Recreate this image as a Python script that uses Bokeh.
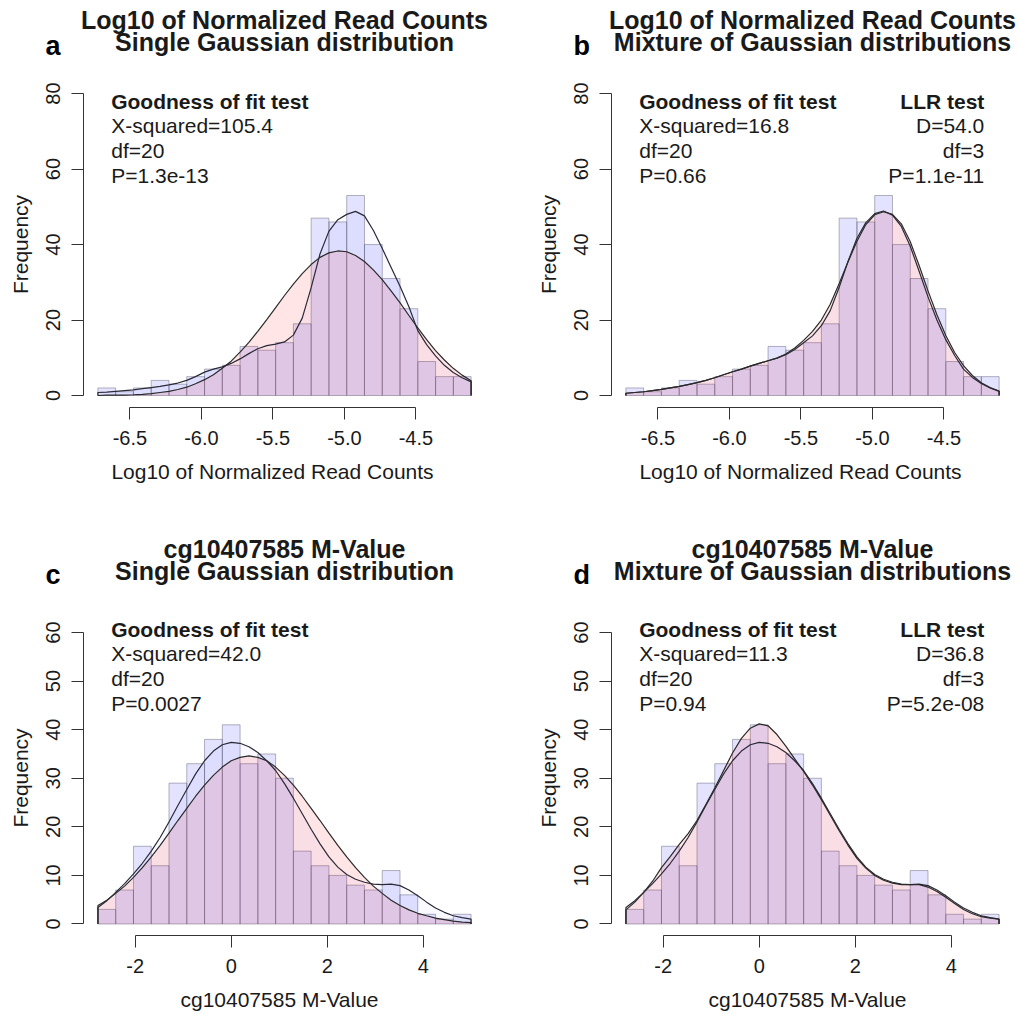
from bokeh.plotting import figure
from bokeh.layouts import column, row
from bokeh.models import Range1d, FixedTicker, NumeralTickFormatter, Label
from bokeh.embed import file_html
from bokeh.resources import INLINE

FONT = "Liberation Sans"

# ---------------- data ----------------
# Log10 of normalized read counts: histogram (21 bins)
read_counts = [2, 1, 2, 4, 3, 5, 7, 8, 13, 12, 14, 19, 47, 46, 53, 40, 31, 23, 9, 5, 5]
read_break_lo, read_break_hi = -6.724, -4.114

# cg10407585 M-value: histogram (21 bins)
mval_counts = [3, 7, 16, 12, 29, 33, 38, 41, 33, 35, 30, 15, 12, 10, 8, 7, 11, 6, 2, 1, 2]
mval_break_lo, mval_break_hi = -2.775, 4.993

# curves (expected frequency)
read_curve_x = [-6.724, -6.662, -6.600, -6.538, -6.475, -6.413, -6.351, -6.289, -6.227, -6.165,
                -6.103, -6.041, -5.978, -5.916, -5.854, -5.792, -5.730, -5.668, -5.606, -5.543,
                -5.481, -5.419, -5.357, -5.295, -5.233, -5.171, -5.109, -5.046, -4.984, -4.922,
                -4.860, -4.798, -4.736, -4.674, -4.612, -4.549, -4.487, -4.425, -4.363, -4.301,
                -4.239, -4.177, -4.114]
read_single_fit = [0.0, 0.1, 0.1, 0.1, 0.2, 0.3, 0.5, 0.8, 1.1, 1.6, 2.2, 3.1, 4.2, 5.5, 7.2, 9.1,
                   11.5, 14.1, 17.0, 20.1, 23.3, 26.5, 29.5, 32.3, 34.7, 36.6, 37.8, 38.3, 38.1, 37.1,
                   35.5, 33.3, 30.7, 27.7, 24.6, 21.2, 17.9, 14.8, 11.9, 9.4, 7.2, 5.4, 3.9]
read_density_a = [0.8, 0.9, 1.1, 1.3, 1.5, 1.8, 2.1, 2.4, 2.8, 3.3, 4.0, 5.0, 6.2, 7.0, 7.6, 8.5,
                  9.7, 11.1, 12.4, 13.2, 13.6, 14.2, 16.0, 20.5, 28.5, 37.5, 43.5, 46.6, 48.0, 48.8,
                  47.6, 43.8, 39.0, 34.0, 29.0, 23.5, 17.2, 13.5, 10.5, 8.0, 6.1, 4.7, 3.6]
read_mix_fit = [0.6, 0.8, 1.0, 1.3, 1.6, 2.0, 2.4, 2.9, 3.4, 4.0, 4.7, 5.5, 6.3, 7.0, 7.8, 8.5,
                9.2, 9.9, 11.0, 12.6, 14.6, 17.0, 20.0, 24.2, 29.6, 35.4, 40.8, 45.3, 47.9, 48.7,
                48.0, 45.5, 40.8, 34.5, 27.8, 21.4, 15.9, 11.4, 7.9, 5.3, 3.4, 2.1, 1.2]
read_density_b = [0.6, 0.8, 1.0, 1.3, 1.6, 2.0, 2.4, 2.9, 3.4, 4.0, 4.7, 5.5, 6.3, 7.0, 7.8, 8.5,
                  9.2, 9.9, 10.8, 12.2, 14.0, 15.8, 18.5, 22.5, 28.6, 35.5, 41.6, 45.8, 48.2, 48.9,
                  47.8, 44.8, 39.6, 33.0, 26.2, 20.0, 14.8, 10.6, 7.0, 4.8, 3.2, 2.0, 1.1]

mval_curve_x = [-2.775, -2.590, -2.405, -2.220, -2.035, -1.850, -1.665, -1.480, -1.296, -1.111,
                -0.926, -0.741, -0.556, -0.371, -0.186, -0.001, 0.184, 0.369, 0.554, 0.739,
                0.924, 1.109, 1.294, 1.479, 1.664, 1.849, 2.034, 2.219, 2.404, 2.589,
                2.774, 2.959, 3.144, 3.329, 3.514, 3.699, 3.884, 4.068, 4.253, 4.438,
                4.623, 4.808, 4.993]
mval_single_fit = [3.8, 4.9, 6.3, 7.8, 9.6, 11.6, 13.8, 16.2, 18.7, 21.3, 23.8, 26.3, 28.6, 30.6,
                   32.3, 33.6, 34.3, 34.6, 34.3, 33.6, 32.3, 30.6, 28.6, 26.3, 23.8, 21.3, 18.7,
                   16.2, 13.8, 11.6, 9.6, 7.8, 6.3, 4.9, 3.8, 2.9, 2.2, 1.7, 1.2, 0.9, 0.6, 0.4, 0.3]
mval_density = [3.4, 4.8, 6.5, 8.3, 10.3, 12.5, 15.0, 17.8, 21.0, 24.4, 27.7, 30.9, 33.6, 35.6,
                36.9, 37.4, 37.2, 36.5, 35.3, 33.6, 31.6, 28.9, 25.9, 22.7, 19.5, 16.5, 13.8, 11.7,
                10.2, 9.2, 8.6, 8.2, 8.1, 8.2, 7.9, 7.0, 5.8, 4.5, 3.3, 2.4, 1.7, 1.3, 1.0]
mval_mix_fit = [2.9, 4.5, 6.5, 8.8, 11.6, 13.9, 16.4, 18.6, 21.3, 24.6, 28.0, 31.6, 35.2, 38.2,
                40.3, 41.2, 40.8, 39.0, 36.6, 34.0, 31.4, 28.6, 25.6, 22.4, 19.2, 16.2, 13.5, 11.5,
                10.0, 9.0, 8.4, 8.1, 8.1, 8.1, 7.6, 6.7, 5.5, 4.2, 3.0, 2.1, 1.5, 1.2, 1.0]

read_xticks = [-6.5, -6.0, -5.5, -5.0, -4.5]
read_yticks = [0, 20, 40, 60, 80]
mval_xticks = [-2, 0, 2, 4]
mval_yticks = [0, 10, 20, 30, 40, 50, 60]

gof_a = ["Goodness of fit test", "X-squared=105.4", "df=20", "P=1.3e-13"]
gof_b = ["Goodness of fit test", "X-squared=16.8", "df=20", "P=0.66"]
llr_b = ["LLR test", "D=54.0", "df=3", "P=1.1e-11"]
gof_c = ["Goodness of fit test", "X-squared=42.0", "df=20", "P=0.0027"]
gof_d = ["Goodness of fit test", "X-squared=11.3", "df=20", "P=0.94"]
llr_d = ["LLR test", "D=36.8", "df=3", "P=5.2e-08"]

# ---------------- layout constants (pixels) ----------------
FW, FH = 403, 324      # plotting region of each panel
LEFT = 82.5            # plotting region left edge inside its panel
TEXT_C = "#1a1a1a"


def make_panel(letter, title1, title2, xlabel, counts, lo, hi, cx, blue, pink,
               xr, yr, xticks, yticks, fmt, W, H, T, left_texts, right_texts=None):
    sx = FW / (xr[1] - xr[0])
    sy = FH / (yr[1] - yr[0])
    x0 = xr[0] - LEFT / sx
    x1 = x0 + W / sx
    y1 = yr[1] + T / sy
    y0 = y1 - H / sy

    def X(px):
        return x0 + px / sx

    def Y(py):
        return y1 - py / sy

    p = figure(width=W, height=H, x_range=Range1d(x0, x1), y_range=Range1d(y0, y1),
               output_backend="svg", toolbar_location=None, min_border=0)
    p.outline_line_color = None
    p.xgrid.visible = False
    p.ygrid.visible = False
    p.background_fill_color = "white"
    p.border_fill_color = "white"

    n = len(counts)
    w = (hi - lo) / n
    lefts = [lo + i * w for i in range(n)]
    rights = [lo + (i + 1) * w for i in range(n)]
    p.quad(left=lefts, right=rights, bottom=0, top=counts,
           fill_color="#0000ff", fill_alpha=0.11,
           line_color="#5a5a6e", line_alpha=0.45, line_width=1)

    px = [cx[0]] + list(cx) + [cx[-1]]
    p.patch(px, [0] + list(blue) + [0], fill_color="#0000ff", fill_alpha=0.025,
            line_color=None)
    p.patch(px, [0] + list(pink) + [0], fill_color="#ff0000", fill_alpha=0.10,
            line_color=None)
    p.line(px, [0] + list(blue) + [0], line_color="#2a2a38", line_width=1.2)
    p.line(px, [0] + list(pink) + [0], line_color="#2a2a2a", line_width=1.2)

    # axes, drawn at the edges of the plotting region
    p.xaxis.fixed_location = yr[0]
    p.yaxis.fixed_location = xr[0]
    p.xaxis.ticker = FixedTicker(ticks=xticks)
    p.xaxis.bounds = (xticks[0], xticks[-1])
    p.xaxis.formatter = NumeralTickFormatter(format=fmt)
    p.yaxis.ticker = FixedTicker(ticks=yticks)
    p.yaxis.bounds = (yticks[0], yticks[-1])
    p.yaxis.formatter = NumeralTickFormatter(format="0")
    p.yaxis.major_label_orientation = "vertical"
    p.xaxis.axis_label = xlabel
    p.yaxis.axis_label = "Frequency"
    for ax in (p.xaxis[0], p.yaxis[0]):
        ax.axis_line_color = "#333333"
        ax.axis_line_width = 1
        ax.major_tick_line_color = "#333333"
        ax.major_tick_out = 12
        ax.major_tick_in = 0
        ax.minor_tick_out = 0
        ax.minor_tick_in = 0
        ax.major_label_text_font = FONT
        ax.major_label_text_font_size = "20px"
        ax.major_label_text_color = TEXT_C
        ax.axis_label_text_font = FONT
        ax.axis_label_text_font_size = "21px"
        ax.axis_label_text_font_style = "normal"
        ax.axis_label_text_color = TEXT_C
    p.xaxis.major_label_standoff = 11
    p.xaxis.axis_label_standoff = 12
    p.yaxis.major_label_standoff = 11
    p.yaxis.axis_label_standoff = 12

    def lab(x, y, text, size, bold, align="left", color=TEXT_C):
        p.add_layout(Label(x=x, y=y, text=text, text_align=align, text_baseline="alphabetic",
                           text_font=FONT, text_font_size=size,
                           text_font_style="bold" if bold else "normal", text_color=color))

    # titles and panel letter
    lab(X(LEFT + FW / 2), Y(19), title1, "25px", True, "center")
    lab(X(LEFT + FW / 2), Y(41.5), title2, "25px", True, "center")
    lab(X(LEFT - 37.5), Y(45), letter, "27px", True, "left", "black")

    # test statistics
    for i, t in enumerate(left_texts):
        lab(X(LEFT + 28.2), Y(T + 17.5 + 24.8 * i), t, "21px", i == 0, "left")
    if right_texts:
        for i, t in enumerate(right_texts):
            lab(X(LEFT + FW - 29.7), Y(T + 17.5 + 24.8 * i), t, "21px", i == 0, "right")
    return p


read_xr = (-6.828, -4.010)
read_yr = (-3.18, 82.68)
mval_xr = (-3.086, 5.304)
mval_yr = (-2.37, 64.33)

TOP1, TOP2 = 83, 82
H1, H2 = 529, 485
WA, WB = 528, 492

pa = make_panel("a", "Log10 of Normalized Read Counts", "Single Gaussian distribution",
                "Log10 of Normalized Read Counts", read_counts, read_break_lo, read_break_hi,
                read_curve_x, read_density_a, read_single_fit, read_xr, read_yr,
                read_xticks, read_yticks, "0.0", WA, H1, TOP1, gof_a)
pb = make_panel("b", "Log10 of Normalized Read Counts", "Mixture of Gaussian distributions",
                "Log10 of Normalized Read Counts", read_counts, read_break_lo, read_break_hi,
                read_curve_x, read_density_b, read_mix_fit, read_xr, read_yr,
                read_xticks, read_yticks, "0.0", WB, H1, TOP1, gof_b, llr_b)
pc = make_panel("c", "cg10407585 M-Value", "Single Gaussian distribution",
                "cg10407585 M-Value", mval_counts, mval_break_lo, mval_break_hi,
                mval_curve_x, mval_density, mval_single_fit, mval_xr, mval_yr,
                mval_xticks, mval_yticks, "0", WA, H2, TOP2, gof_c)
pd = make_panel("d", "cg10407585 M-Value", "Mixture of Gaussian distributions",
                "cg10407585 M-Value", mval_counts, mval_break_lo, mval_break_hi,
                mval_curve_x, mval_density, mval_mix_fit, mval_xr, mval_yr,
                mval_xticks, mval_yticks, "0", WB, H2, TOP2, gof_d, llr_d)

layout = column(row(pa, pb), row(pc, pd))
open("out.html", "w").write(file_html(layout, INLINE))
